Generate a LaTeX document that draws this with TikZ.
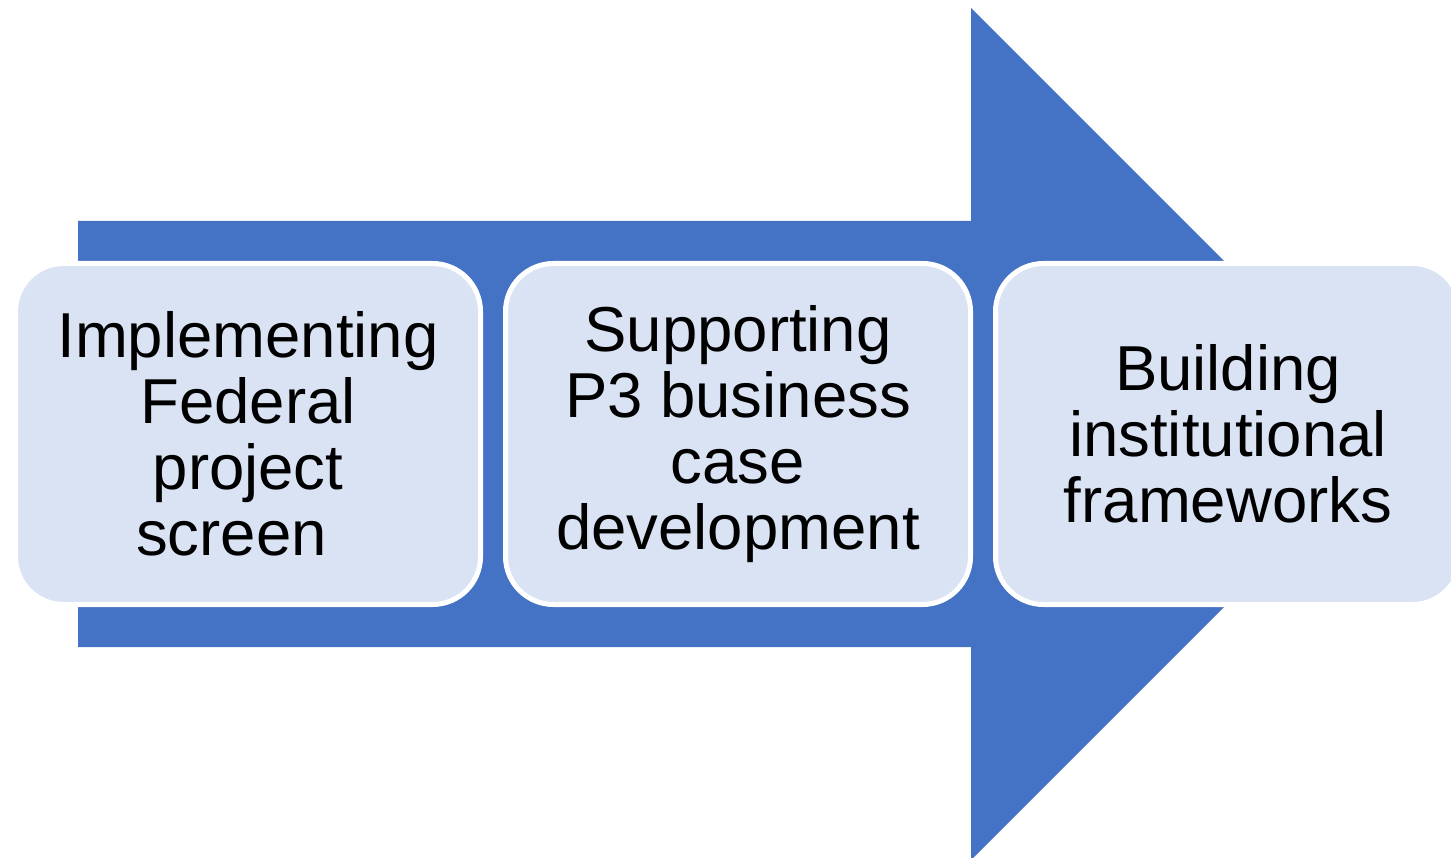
\documentclass[tikz,border=0pt]{standalone}
\usepackage{fontspec}
\setmainfont{Liberation Sans}
\usetikzlibrary{positioning}
\definecolor{arrowblue}{HTML}{4472C4}
\definecolor{cardfill}{HTML}{DAE3F3}

\tikzset{
  phase/.style={draw=white, line width=5pt, fill=cardfill, rounded corners=48pt,
    minimum width=465pt, minimum height=341pt, inner sep=0pt, align=center,
    font=\fontsize{63.5}{66}\selectfont}
}

\begin{document}
\begin{tikzpicture}[x=1pt, y=-1pt]
			\useasboundingbox (0, 0) rectangle (1451, 858);
			
			%%%%% big arrow %%%%%
			\fill[arrowblue] (78, 221) -- (971, 221) -- (971, 8) -- (1397, 434)
			  -- (971, 860) -- (971, 647) -- (78, 647) -- cycle;
			
			%%%%% phases %%%%%
			\node[phase] (screen) at (248, 434) {Implementing\\Federal\\project\\screen\hspace*{33pt}};
			\node[phase, right=20pt of screen] (business) {Supporting\\P3 business\\case\\development};
			\node[phase, right=20pt of business] (frameworks) {Building\\institutional\\frameworks};
			
		\end{tikzpicture}
\end{document}
